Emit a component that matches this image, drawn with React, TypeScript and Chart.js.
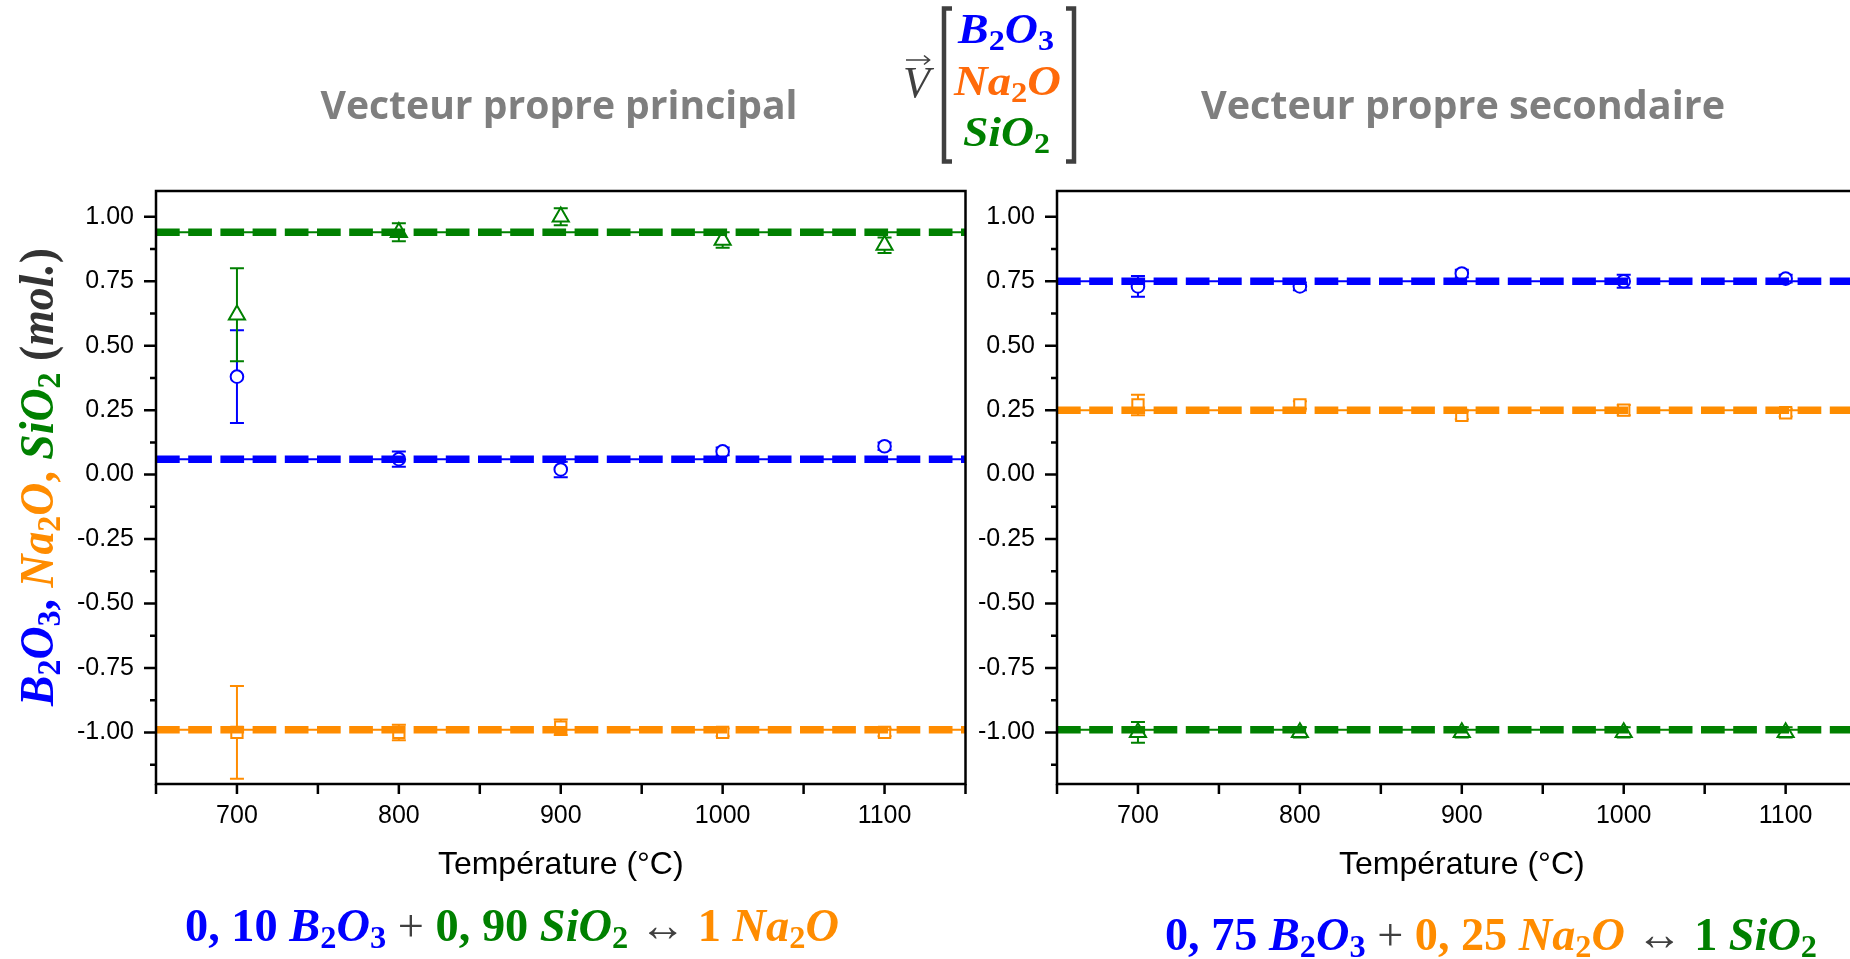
import React, { useEffect, useRef } from "react";
import { Chart, registerables } from "chart.js";

Chart.register(...registerables);

// ---- data ---------------------------------------------------------------
const TEMPERATURES = [700, 800, 900, 1000, 1100];
const X_LABEL_TICKS = [700, 800, 900, 1000, 1100];
const X_MINOR_TICKS = [650, 700, 750, 800, 850, 900, 950, 1000, 1050, 1100, 1150];
const Y_LABEL_TICKS = [-1, -0.75, -0.5, -0.25, 0, 0.25, 0.5, 0.75, 1];
const Y_MINOR_TICKS = [-1.125, -0.875, -0.625, -0.375, -0.125, 0.125, 0.375, 0.625, 0.875];

// Vecteur propre principal
const PRINCIPAL_B2O3 = [0.38, 0.06, 0.02, 0.09, 0.11];
const PRINCIPAL_B2O3_ERR = [0.18, 0.03, 0.03, 0.015, 0.015];
const PRINCIPAL_NA2O = [-1.0, -1.0, -0.98, -1.0, -1.0];
const PRINCIPAL_NA2O_ERR = [0.18, 0.03, 0.03, 0.015, 0.015];
const PRINCIPAL_SIO2 = [0.62, 0.94, 1.0, 0.91, 0.89];
const PRINCIPAL_SIO2_ERR = [0.18, 0.035, 0.033, 0.03, 0.03];
// mean levels: B2O3, Na2O, SiO2
const PRINCIPAL_LEVELS = [0.06, -0.99, 0.94];

// Vecteur propre secondaire
const SECONDARY_B2O3 = [0.73, 0.73, 0.78, 0.75, 0.76];
const SECONDARY_B2O3_ERR = [0.04, 0.015, 0.015, 0.025, 0.015];
const SECONDARY_NA2O = [0.27, 0.27, 0.23, 0.25, 0.24];
const SECONDARY_NA2O_ERR = [0.04, 0.015, 0.015, 0.02, 0.015];
const SECONDARY_SIO2 = [-1.0, -1.0, -1.0, -1.0, -1.0];
const SECONDARY_SIO2_ERR = [0.04, 0.02, 0.02, 0.02, 0.02];
const SECONDARY_LEVELS = [0.75, 0.25, -0.99];

// ---- styles -------------------------------------------------------------
const BLUE = "#0000FF";
const ORANGE = "#FF8C00";
const GREEN = "#008000";
const DARK = "#404040";
const SANS = "'Liberation Sans', Arial, sans-serif";
const SERIF = "'Liberation Serif', 'Times New Roman', serif";

const SERIES_STYLE = [
  { color: BLUE, pointStyle: "circle", radius: 6.3 },
  { color: ORANGE, pointStyle: "rect", radius: 8 },
  { color: GREEN, pointStyle: "triangle", radius: 9.3 },
];

const CAP = 7;

function buildDatasets(values: number[][], errors: number[][], levels: number[]) {
  const markers = values.map((vals, k) => ({
    type: "line",
    data: TEMPERATURES.map((t, i) => ({ x: t, y: vals[i] })),
    errorBars: errors[k],
    showLine: false,
    pointStyle: SERIES_STYLE[k].pointStyle,
    pointRadius: SERIES_STYLE[k].radius,
    pointHoverRadius: SERIES_STYLE[k].radius,
    pointBorderWidth: 2,
    pointBackgroundColor: "#FFFFFF",
    pointBorderColor: SERIES_STYLE[k].color,
    borderColor: SERIES_STYLE[k].color,
    order: 2,
  }));
  const thin = levels.map((lv, k) => ({
    type: "line",
    data: [
      { x: 650, y: lv },
      { x: 1150, y: lv },
    ],
    borderColor: SERIES_STYLE[k].color,
    borderWidth: 2,
    borderDash: [32.2, 32.2],
    borderDashOffset: 54,
    pointRadius: 0,
    clip: 0,
    order: 1,
  }));
  const thick = levels.map((lv, k) => ({
    type: "line",
    data: [
      { x: 650, y: lv },
      { x: 1150, y: lv },
    ],
    borderColor: SERIES_STYLE[k].color,
    borderWidth: 7.5,
    borderDash: [23.7, 8.5],
    borderCapStyle: "butt",
    pointRadius: 0,
    clip: 0,
    order: 0,
  }));
  return [...markers, ...thin, ...thick];
}

// vertical error bars with caps, drawn under the markers
const errorBarPlugin = {
  id: "errorBars",
  beforeDatasetsDraw(chart: any) {
    const { ctx, chartArea: a, scales } = chart;
    const xs = scales.x;
    const ys = scales.y;
    ctx.save();
    ctx.beginPath();
    ctx.rect(a.left, a.top, a.right - a.left, a.bottom - a.top);
    ctx.clip();
    chart.data.datasets.forEach((ds: any) => {
      if (!ds.errorBars) return;
      ctx.strokeStyle = ds.borderColor;
      ctx.lineWidth = 2;
      ds.data.forEach((p: any, i: number) => {
        const e = ds.errorBars[i];
        const px = xs.getPixelForValue(p.x);
        const top = ys.getPixelForValue(p.y + e);
        const bot = ys.getPixelForValue(p.y - e);
        ctx.beginPath();
        ctx.moveTo(px, top);
        ctx.lineTo(px, bot);
        ctx.moveTo(px - CAP, top);
        ctx.lineTo(px + CAP, top);
        ctx.moveTo(px - CAP, bot);
        ctx.lineTo(px + CAP, bot);
        ctx.stroke();
      });
    });
    ctx.restore();
  },
};

// box frame plus outward major / minor tick marks
const framePlugin = {
  id: "frame",
  afterDraw(chart: any) {
    const { ctx, chartArea: a, scales } = chart;
    const xs = scales.x;
    const ys = scales.y;
    ctx.save();
    ctx.strokeStyle = "#000000";
    ctx.lineWidth = 2.5;
    ctx.strokeRect(a.left, a.top, a.right - a.left, a.bottom - a.top);
    ctx.beginPath();
    X_MINOR_TICKS.forEach((v) => {
      const px = xs.getPixelForValue(v);
      ctx.moveTo(px, a.bottom);
      ctx.lineTo(px, a.bottom + 10);
    });
    Y_LABEL_TICKS.forEach((v) => {
      const py = ys.getPixelForValue(v);
      ctx.moveTo(a.left, py);
      ctx.lineTo(a.left - 12, py);
    });
    Y_MINOR_TICKS.forEach((v) => {
      const py = ys.getPixelForValue(v);
      ctx.moveTo(a.left, py);
      ctx.lineTo(a.left - 6, py);
    });
    ctx.stroke();
    ctx.restore();
  },
};

function makeChart(
  canvas: HTMLCanvasElement,
  datasets: any[],
  yAxisWidth: number,
  padRight: number
) {
  return new Chart(canvas, {
    type: "line",
    data: { datasets } as any,
    plugins: [errorBarPlugin, framePlugin],
    options: {
      animation: false,
      responsive: false,
      devicePixelRatio: 1,
      events: [],
      layout: {
        autoPadding: false,
        padding: { top: 41, right: padRight, bottom: 0, left: 0 },
      },
      plugins: { legend: { display: false }, tooltip: { enabled: false } },
      scales: {
        x: {
          type: "linear",
          min: 650,
          max: 1150,
          afterBuildTicks: (s: any) => {
            s.ticks = X_LABEL_TICKS.map((v) => ({ value: v }));
          },
          afterFit: (s: any) => {
            s.height = 116;
          },
          grid: { display: false, drawTicks: false },
          border: { display: false },
          ticks: {
            autoSkip: false,
            maxRotation: 0,
            padding: 17,
            color: "#000000",
            font: { family: SANS, size: 25 },
            callback: (v: any) => String(v),
          },
          title: {
            display: true,
            text: "Température (°C)",
            color: "#000000",
            font: { family: SANS, size: 32 },
            padding: { top: 0, bottom: 16 },
          },
        },
        y: {
          type: "linear",
          min: -1.2,
          max: 1.1,
          afterBuildTicks: (s: any) => {
            s.ticks = Y_LABEL_TICKS.map((v) => ({ value: v }));
          },
          afterFit: (s: any) => {
            s.width = yAxisWidth;
          },
          grid: { display: false, drawTicks: false },
          border: { display: false },
          ticks: {
            autoSkip: false,
            padding: 22,
            color: "#000000",
            font: { family: SANS, size: 25 },
            callback: (v: any) => Number(v).toFixed(2),
          },
        },
      },
    } as any,
  });
}

// ---- text helpers (SVG) ---------------------------------------------------
type Run = { t: string; c: string; i?: boolean; sub?: boolean; w?: string };

function formula(src: string, c: string): Run[] {
  const runs: Run[] = [];
  for (let k = 0; k < src.length; k++) {
    if (src[k] === "_") {
      runs.push({ t: src[k + 1], c, sub: true });
      k++;
    } else {
      runs.push({ t: src[k], c, i: true });
    }
  }
  return runs;
}

function Runs({ runs, size, shift }: { runs: Run[]; size: number; shift: number }) {
  let down = false;
  return (
    <>
      {runs.map((r, k) => {
        let dy: number | undefined;
        if (r.sub && !down) {
          dy = shift;
          down = true;
        } else if (!r.sub && down) {
          dy = -shift;
          down = false;
        }
        return (
          <tspan
            key={k}
            dy={dy}
            fill={r.c}
            fontStyle={r.i ? "italic" : "normal"}
            fontWeight={r.w || "bold"}
            fontSize={r.sub ? size * 0.7 : size}
          >
            {r.t}
          </tspan>
        );
      })}
    </>
  );
}

const EQ_PRINCIPAL: Run[] = [
  { t: "0, 10 ", c: BLUE },
  ...formula("B_2O_3", BLUE),
  { t: " + ", c: DARK, w: "normal" },
  { t: "0, 90 ", c: GREEN },
  ...formula("SiO_2", GREEN),
  { t: " ↔ ", c: DARK, w: "normal" },
  { t: "1 ", c: ORANGE },
  ...formula("Na_2O", ORANGE),
];

const EQ_SECONDARY: Run[] = [
  { t: "0, 75 ", c: BLUE },
  ...formula("B_2O_3", BLUE),
  { t: " + ", c: DARK, w: "normal" },
  { t: "0, 25 ", c: ORANGE },
  ...formula("Na_2O", ORANGE),
  { t: " ↔ ", c: DARK, w: "normal" },
  { t: "1 ", c: GREEN },
  ...formula("SiO_2", GREEN),
];

const Y_TITLE: Run[] = [
  ...formula("B_2O_3", BLUE),
  { t: ", ", c: BLUE },
  ...formula("Na_2O", ORANGE),
  { t: ", ", c: ORANGE },
  ...formula("SiO_2", GREEN),
  { t: " (", c: "#333333" },
  { t: "mol.", c: "#333333", i: true },
  { t: ")", c: "#333333" },
];

const MATRIX_ORANGE = "#FF6A0A";

export default function App() {
  const leftRef = useRef<HTMLCanvasElement>(null);
  const rightRef = useRef<HTMLCanvasElement>(null);

  useEffect(() => {
    const left = makeChart(
      leftRef.current!,
      buildDatasets(
        [PRINCIPAL_B2O3, PRINCIPAL_NA2O, PRINCIPAL_SIO2],
        [PRINCIPAL_B2O3_ERR, PRINCIPAL_NA2O_ERR, PRINCIPAL_SIO2_ERR],
        PRINCIPAL_LEVELS
      ),
      156,
      14.5
    );
    const right = makeChart(
      rightRef.current!,
      buildDatasets(
        [SECONDARY_B2O3, SECONDARY_NA2O, SECONDARY_SIO2],
        [SECONDARY_B2O3_ERR, SECONDARY_NA2O_ERR, SECONDARY_SIO2_ERR],
        SECONDARY_LEVELS
      ),
      97,
      13.4
    );
    return () => {
      left.destroy();
      right.destroy();
    };
  }, []);

  return (
    <div
      style={{
        position: "fixed",
        left: 0,
        top: 0,
        width: 1850,
        height: 959,
        overflow: "hidden",
        background: "#FFFFFF",
      }}
    >
      <canvas
        ref={leftRef}
        width={980}
        height={750}
        style={{ position: "absolute", left: 0, top: 150, width: 980, height: 750 }}
      />
      <canvas
        ref={rightRef}
        width={920}
        height={750}
        style={{ position: "absolute", left: 960, top: 150, width: 920, height: 750 }}
      />
      <svg
        width={1850}
        height={959}
        style={{ position: "absolute", left: 0, top: 0, pointerEvents: "none", whiteSpace: "pre" }}
      >
        {/* panel titles */}
        <text
          x={320.5}
          y={119}
          textLength={477}
          lengthAdjust="spacingAndGlyphs"
          fill="#7F7F7F"
          fontFamily="'Open Sans', sans-serif"
          fontWeight="bold"
          fontSize={40}
        >
          Vecteur propre principal
        </text>
        <text
          x={1201}
          y={119}
          textLength={524}
          lengthAdjust="spacingAndGlyphs"
          fill="#7F7F7F"
          fontFamily="'Open Sans', sans-serif"
          fontWeight="bold"
          fontSize={40}
        >
          Vecteur propre secondaire
        </text>

        {/* composition vector */}
        <text x={903} y={97} fill={DARK} fontFamily={SERIF} fontStyle="italic" fontSize={44}>
          V
        </text>
        <path d="M906 60 H929 M924 55.5 L929.5 60 L924 64.5" stroke={DARK} strokeWidth={1.6} fill="none" />
        <path d="M952 8.5 H944 V161.5 H952" stroke={DARK} strokeWidth={4.5} fill="none" />
        <path d="M1066 8.5 H1074 V161.5 H1066" stroke={DARK} strokeWidth={4.5} fill="none" />
        <text x={958} y={43} textLength={96} lengthAdjust="spacingAndGlyphs" fontFamily={SERIF}>
          <Runs runs={formula("B_2O_3", BLUE)} size={42} shift={7} />
        </text>
        <text x={954} y={95} textLength={107} lengthAdjust="spacingAndGlyphs" fontFamily={SERIF}>
          <Runs runs={formula("Na_2O", MATRIX_ORANGE)} size={42} shift={7} />
        </text>
        <text x={963} y={146} textLength={87} lengthAdjust="spacingAndGlyphs" fontFamily={SERIF}>
          <Runs runs={formula("SiO_2", GREEN)} size={42} shift={7} />
        </text>

        {/* y axis title */}
        <text
          transform="translate(53 706) rotate(-90)"
          x={0}
          y={0}
          textLength={458}
          lengthAdjust="spacingAndGlyphs"
          fontFamily={SERIF}
        >
          <Runs runs={Y_TITLE} size={48} shift={7} />
        </text>

        {/* balance equations */}
        <text x={185} y={941} textLength={654} lengthAdjust="spacingAndGlyphs" fontFamily={SERIF}>
          <Runs runs={EQ_PRINCIPAL} size={46} shift={7} />
        </text>
        <text x={1165} y={950} textLength={652} lengthAdjust="spacingAndGlyphs" fontFamily={SERIF}>
          <Runs runs={EQ_SECONDARY} size={46} shift={7} />
        </text>
      </svg>
    </div>
  );
}
